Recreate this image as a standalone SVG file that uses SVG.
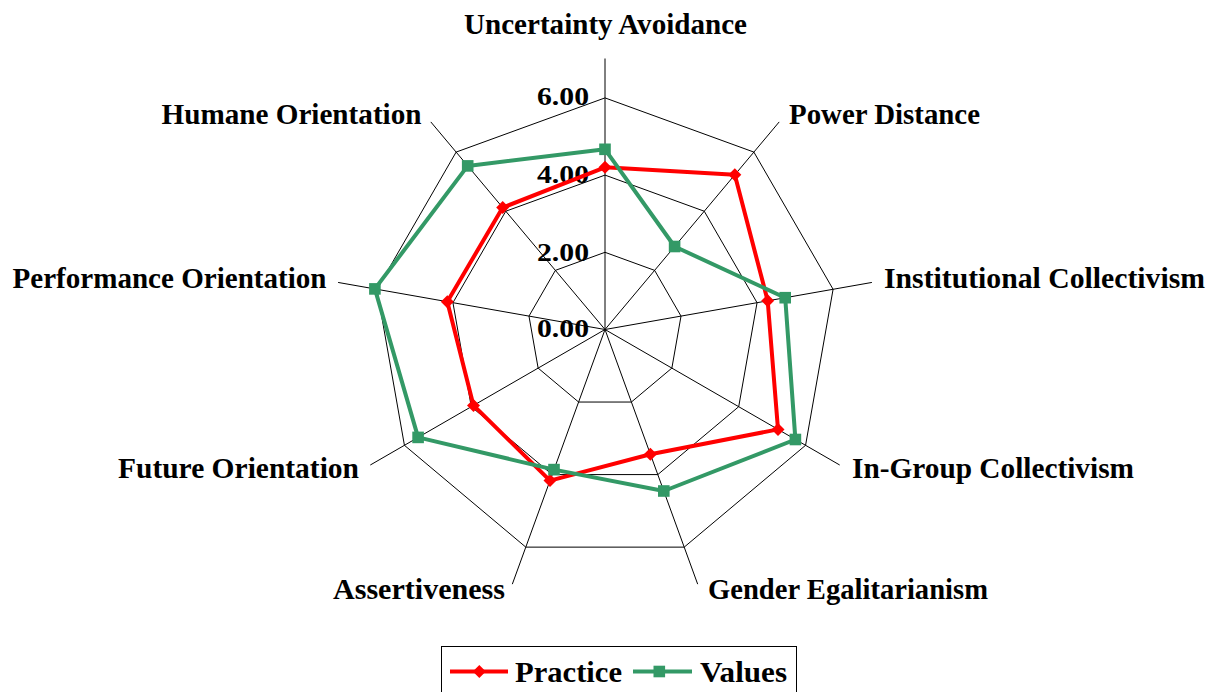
<svg xmlns="http://www.w3.org/2000/svg" xmlns:xlink="http://www.w3.org/1999/xlink" width="1225" height="692" viewBox="0 0 1225 692">
<style>
.grid{fill:none;stroke:#000;stroke-width:1}
.lbl{font-family:"Liberation Serif","Times New Roman",serif;font-weight:bold;font-size:29px;fill:#000}
.tick{font-family:"Liberation Serif","Times New Roman",serif;font-weight:bold;font-size:25px;fill:#000}
.prac{fill:none;stroke:#FF0000;stroke-width:4;stroke-linejoin:round}
.vals{fill:none;stroke:#339966;stroke-width:4;stroke-linejoin:round}
</style>
<defs>
<path id="dia" d="M0,-6.5 L6.5,0 L0,6.5 L-6.5,0 Z" fill="#FF0000"/>
<rect id="sq" x="-5.8" y="-5.8" width="11.6" height="11.6" fill="#339966"/>
</defs>
<rect width="1225" height="692" fill="#fff"/>
<g id="grid" transform="translate(605,329.5)">
<path class="grid" d="M0,0L0,-271M0,0L174.20,-207.59M0,0L266.88,-47.06M0,0L234.69,135.5M0,0L92.68,254.66M0,0L-92.68,254.66M0,0L-234.69,135.5M0,0L-266.88,-47.06M0,0L-174.20,-207.59"/>
<polygon class="grid" points="0,-77.2 49.62,-59.14 76.03,-13.40 66.86,38.6 26.40,72.54 -26.40,72.54 -66.86,38.6 -76.03,-13.40 -49.62,-59.14"/>
<polygon class="grid" points="0,-154.4 99.25,-118.27 152.05,-26.80 133.71,77.2 52.81,145.09 -52.81,145.09 -133.71,77.2 -152.05,-26.80 -99.25,-118.27"/>
<polygon class="grid" points="0,-231.6 148.87,-177.41 228.08,-40.21 200.57,115.8 79.21,217.63 -79.21,217.63 -200.57,115.8 -228.08,-40.21 -148.87,-177.41"/>
</g>
<g id="ticks">
<text class="tick" x="537" y="105" textLength="52" lengthAdjust="spacingAndGlyphs">6.00</text>
<text class="tick" x="537" y="183" textLength="52" lengthAdjust="spacingAndGlyphs">4.00</text>
<text class="tick" x="537" y="260.5" textLength="52" lengthAdjust="spacingAndGlyphs">2.00</text>
<text class="tick" x="537" y="337" textLength="52" lengthAdjust="spacingAndGlyphs">0.00</text>
</g>
<g id="connectors" transform="translate(605,329.5)">
<polygon class="prac" points="0,-162.2 129.8,-154.7 162.7,-28.7 173.0,99.9 45.4,124.7 -55.0,151.1 -131.5,75.9 -157.7,-27.8 -102.3,-121.9"/>
<polygon class="vals" points="0,-180.2 69.6,-83.0 180.2,-31.8 190.4,110.0 58.8,161.5 -51.0,140.1 -186.9,107.9 -230.1,-40.6 -137.3,-163.6"/>
</g>
<g id="series-practice" transform="translate(605,329.5)">
<use xlink:href="#dia" x="0" y="-162.2"/>
<use xlink:href="#dia" x="129.8" y="-154.7"/>
<use xlink:href="#dia" x="162.7" y="-28.7"/>
<use xlink:href="#dia" x="173.0" y="99.9"/>
<use xlink:href="#dia" x="45.4" y="124.7"/>
<use xlink:href="#dia" x="-55.0" y="151.1"/>
<use xlink:href="#dia" x="-131.5" y="75.9"/>
<use xlink:href="#dia" x="-157.7" y="-27.8"/>
<use xlink:href="#dia" x="-102.3" y="-121.9"/>
</g>
<g id="series-values" transform="translate(605,329.5)">
<use xlink:href="#sq" x="0" y="-180.2"/>
<use xlink:href="#sq" x="69.6" y="-83.0"/>
<use xlink:href="#sq" x="180.2" y="-31.8"/>
<use xlink:href="#sq" x="190.4" y="110.0"/>
<use xlink:href="#sq" x="58.8" y="161.5"/>
<use xlink:href="#sq" x="-51.0" y="140.1"/>
<use xlink:href="#sq" x="-186.9" y="107.9"/>
<use xlink:href="#sq" x="-230.1" y="-40.6"/>
<use xlink:href="#sq" x="-137.3" y="-163.6"/>
</g>
<g id="axis-labels">
<text id="ua" class="lbl" x="464" y="34" textLength="283" lengthAdjust="spacingAndGlyphs">Uncertainty Avoidance</text>
<text id="pd" class="lbl" x="789" y="123.5" textLength="191" lengthAdjust="spacingAndGlyphs">Power Distance</text>
<text id="ic" class="lbl" x="884" y="287.5" textLength="321" lengthAdjust="spacingAndGlyphs">Institutional Collectivism</text>
<text id="igc" class="lbl" x="852" y="477.5" textLength="282" lengthAdjust="spacingAndGlyphs">In-Group Collectivism</text>
<text id="ge" class="lbl" x="708" y="598.5" textLength="280" lengthAdjust="spacingAndGlyphs">Gender Egalitarianism</text>
<text id="as" class="lbl" x="333" y="598.5" textLength="172" lengthAdjust="spacingAndGlyphs">Assertiveness</text>
<text id="fo" class="lbl" x="118" y="477.5" textLength="241" lengthAdjust="spacingAndGlyphs">Future Orientation</text>
<text id="po" class="lbl" x="12.5" y="287.5" textLength="314" lengthAdjust="spacingAndGlyphs">Performance Orientation</text>
<text id="ho" class="lbl" x="161.5" y="123.5" textLength="260" lengthAdjust="spacingAndGlyphs">Humane Orientation</text>
</g>
<g id="legend">
<rect x="441.5" y="646.5" width="355" height="60" fill="#fff" stroke="#000" stroke-width="1"/>
<line x1="450" y1="671.5" x2="508" y2="671.5" stroke="#FF0000" stroke-width="4"/>
<use xlink:href="#dia" x="479.3" y="671.5"/>
<text class="lbl" x="515" y="681.7" textLength="107" lengthAdjust="spacingAndGlyphs">Practice</text>
<line x1="633" y1="671.5" x2="692" y2="671.5" stroke="#339966" stroke-width="4"/>
<use xlink:href="#sq" x="659.3" y="671.5"/>
<text class="lbl" x="700" y="681.7" textLength="87" lengthAdjust="spacingAndGlyphs">Values</text>
</g>
</svg>
